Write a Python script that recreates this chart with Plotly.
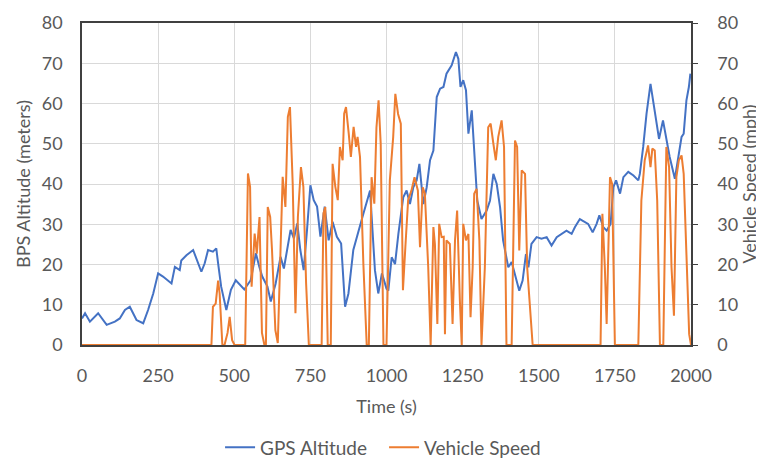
import plotly.graph_objects as go

# GPS Altitude (meters)
alt_time = [0, 10, 26, 53, 81, 108, 124, 141, 157, 179, 201, 217, 234, 250, 266, 294, 305, 321, 326, 343,
            365, 392, 403, 414, 430, 441, 447, 457, 474, 489, 505, 533, 554, 571, 582, 592, 609, 620, 636, 652,
            663, 674, 685, 696, 707, 717, 728, 739, 750, 761, 772, 783, 797, 810, 823, 837, 851, 864, 875, 891,
            908, 924, 946, 962, 973, 985, 1000, 1006, 1017, 1028, 1039, 1055, 1066, 1077, 1088, 1099, 1108, 1115,
            1121, 1132, 1143, 1154, 1165, 1176, 1187, 1197, 1214, 1228, 1236, 1243, 1252, 1261, 1269, 1280, 1290,
            1298, 1312, 1329, 1340, 1351, 1362, 1373, 1383, 1400, 1411, 1422, 1436, 1447, 1458, 1466, 1476, 1493,
            1509, 1526, 1542, 1559, 1575, 1591, 1608, 1619, 1635, 1652, 1662, 1677, 1690, 1699, 1712, 1723, 1736,
            1745, 1754, 1767, 1778, 1794, 1811, 1827, 1832, 1843, 1854, 1867, 1876, 1887, 1895, 1908, 1919, 1930,
            1947, 1958, 1969, 1976, 1985, 1993, 1998]
alt_value = [6.6, 7.9, 5.8, 7.9, 5.0, 5.8, 6.6, 8.7, 9.5, 6.2, 5.4, 8.7, 12.8, 17.8, 17.0, 15.3, 19.4, 18.6, 21.0, 22.3,
             23.6, 18.2, 20.3, 23.6, 23.2, 24.0, 20.3, 14.5, 8.7, 13.7, 16.1, 13.8, 16.1, 22.8, 19.5, 17.0, 14.5, 10.8, 15.3, 21.9,
             19.0, 24.4, 28.6, 26.5, 30.2, 23.6, 18.6, 28.6, 39.7, 36.0, 34.4, 26.9, 34.4, 26.0, 30.6, 26.9, 25.2, 9.5, 12.8, 23.6,
             28.5, 32.6, 38.4, 18.6, 12.8, 17.8, 14.0, 13.5, 21.8, 20.1, 27.6, 36.7, 38.4, 35.0, 39.2, 40.9, 45.0, 39.2,
             35.0, 39.2, 45.9, 48.3, 61.6, 63.7, 64.1, 67.4, 69.5, 72.8, 71.1, 64.1, 65.8, 63.3, 52.5, 58.3, 45.9,
             35.9, 31.3, 33.4, 35.9, 42.5, 40.0, 34.2, 26.0, 19.3, 20.6, 17.7, 13.5, 16.0, 22.6, 19.3, 25.1, 26.8,
             26.4, 26.8, 24.7, 26.8, 27.6, 28.4, 27.6, 29.3, 31.3, 30.5, 30.1, 28.0, 30.1, 32.2, 29.3, 28.4, 30.1,
             39.2, 40.9, 37.6, 41.7, 43.0, 42.1, 40.9, 42.5, 49.2, 57.5, 64.9, 60.8, 55.8, 51.2, 55.8, 50.8, 46.7,
             41.3, 46.7, 51.7, 52.5, 60.8, 64.1, 67.4]

# Vehicle Speed (mph)
spd_time = [0, 425, 430, 439, 447, 452, 461, 468, 478, 485, 493, 501, 536, 545, 552, 557, 567, 574, 583, 591,
            599, 604, 610, 618, 624, 635, 643, 654, 659, 668, 676, 683, 692, 701, 709, 719, 727, 736, 745, 787,
            793, 799, 807, 817, 823, 832, 840, 847, 856, 861, 867, 876, 883, 892, 900, 905, 913, 924, 935, 942,
            951, 960, 967, 974, 981, 990, 1000, 1011, 1022, 1029, 1038, 1047, 1054, 1062, 1071, 1082, 1092, 1103,
            1110, 1119, 1126, 1137, 1145, 1154, 1159, 1167, 1173, 1181, 1188, 1192, 1197, 1208, 1217, 1225, 1232,
            1241, 1247, 1252, 1261, 1269, 1276, 1283, 1288, 1296, 1305, 1312, 1323, 1334, 1342, 1351, 1359, 1367,
            1378, 1386, 1394, 1411, 1422, 1429, 1436, 1444, 1455, 1462, 1469, 1480, 1703, 1709, 1717, 1723, 1734,
            1741, 1750, 1827, 1837, 1848, 1859, 1867, 1873, 1881, 1889, 1898, 1909, 1919, 1928, 1936, 1944, 1952,
            1960, 1969, 1976, 1985, 1994, 2000]
spd_value = [0, 0, 9.5, 10.3, 16.0, 12.8, 0, 0, 3.0, 7.0, 1.2, 0, 0, 42.6, 39.3, 14.5, 27.7, 22.7, 31.8, 3.0,
             0, 0, 34.3, 31.8, 23.6, 3.7, 0.5, 32.7, 41.8, 34.3, 56.7, 59.1, 40.0, 7.9, 31.8, 44.2, 39.3, 15.3, 0, 0,
             32.7, 34.3, 0, 0, 45.0, 39.3, 36.0, 49.2, 45.9, 57.5, 59.1, 52.5, 46.7, 54.2, 49.2, 51.7, 46.7, 20.2, 0, 0,
             41.7, 35.1, 54.0, 60.8, 50.0, 0, 0, 40.9, 51.7, 62.4, 57.4, 55.0, 13.6, 24.4, 36.0, 38.4, 41.7, 38.4,
             24.3, 39.2, 37.6, 19.3, 0, 29.3, 25.0, 5.2, 30.1, 26.8, 26.9, 2.7, 26.0, 25.1, 5.2, 26.0, 33.4,
             11.0, 0, 30.1, 26.0, 27.6, 6.9, 19.3, 37.6, 38.8, 26.0, 0, 19.3, 54.1, 55.0, 50.0, 45.9, 51.7,
             55.8, 49.2, 0, 0, 50.8, 49.2, 23.5, 43.4, 42.5, 19.3, 11.0, 0, 0, 32.6, 19.3, 5.2, 41.7,
             40.0, 0, 0, 35.9, 45.9, 49.6, 44.2, 48.8, 48.3, 35.9, 0, 0, 49.2, 44.2, 19.3, 7.3, 41.7,
             45.9, 47.1, 42.5, 21.8, 2.7, 0]

x_ticks = [0, 250, 500, 750, 1000, 1250, 1500, 1750, 2000]
y_ticks = [0, 10, 20, 30, 40, 50, 60, 70, 80]

FONT = "Lato, 'Open Sans', sans-serif"
TXT = "#595959"
GRID = "#d9d9d9"
FRAME = "#404040"

fig = go.Figure()
fig.add_trace(go.Scatter(x=alt_time, y=alt_value, name="GPS Altitude", mode="lines",
                         line=dict(color="#4472C4", width=2), yaxis="y"))
fig.add_trace(go.Scatter(x=spd_time, y=spd_value, name="Vehicle Speed", mode="lines",
                         line=dict(color="#ED7D31", width=2), yaxis="y2"))

# the page body adds an 8px offset; figure size/margins compensate for it
fig.update_layout(
    width=756, height=490,
    margin=dict(l=74, r=73, t=15, b=153),
    paper_bgcolor="white", plot_bgcolor="white",
    font=dict(family=FONT, size=18, color=TXT),
    showlegend=True,
    legend=dict(orientation="h", x=0.496, xanchor="center", y=-0.318, yanchor="middle",
                font=dict(size=19, color=TXT), itemwidth=30, entrywidth=119),
    xaxis=dict(range=[0, 2000], tickvals=x_ticks, ticktext=[str(v) for v in x_ticks],
               showgrid=True, gridcolor=GRID, gridwidth=1, zeroline=False, automargin=False,
               showline=True, linecolor=FRAME, linewidth=1.5, mirror=True,
               ticks="outside", ticklen=14, tickcolor="rgba(0,0,0,0)",
               title=dict(text="Time (s)", standoff=15, font=dict(size=18, color=TXT))),
    yaxis=dict(range=[0, 80], tickvals=y_ticks, ticktext=[str(v) for v in y_ticks],
               showgrid=True, gridcolor=GRID, gridwidth=1, zeroline=False, automargin=False,
               showline=True, linecolor=FRAME, linewidth=1.5, mirror=True,
               ticks="outside", ticklen=14, tickcolor="rgba(0,0,0,0)",
               title=dict(text="BPS Altitude (meters)", standoff=6, font=dict(size=18, color=TXT))),
    yaxis2=dict(range=[0, 80], tickvals=y_ticks, ticktext=[str(v) for v in y_ticks],
                overlaying="y", side="right", showgrid=False, zeroline=False, automargin=False,
                showline=True, linecolor=FRAME, linewidth=1.5,
                ticks="outside", ticklen=5, tickcolor=FRAME, ticklabelstandoff=16,
                title=dict(text="Vehicle Speed (mph)", standoff=0, font=dict(size=18, color=TXT))),
)

fig.write_html("out.html")
